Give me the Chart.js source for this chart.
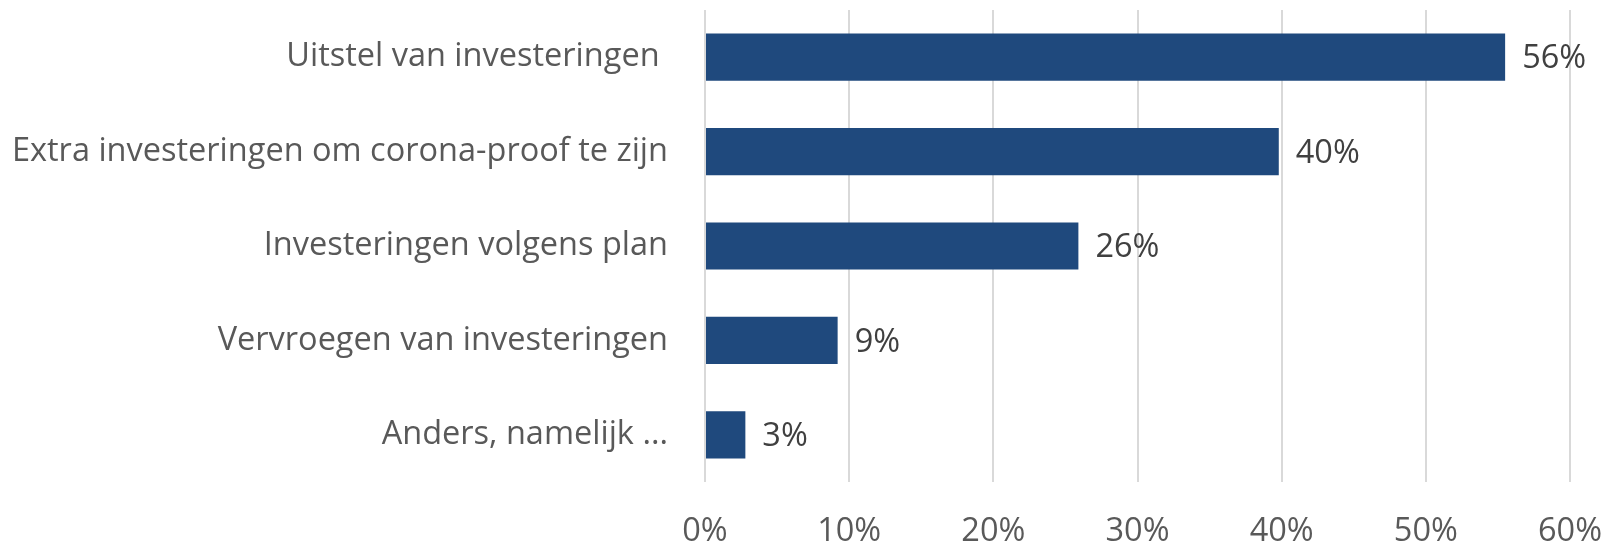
<!DOCTYPE html>
<html>
<head>
<meta charset="utf-8">
<script src="https://cdn.jsdelivr.net/npm/chart.js@4"></script>
<style>
  html, body { margin: 0; padding: 0; background: #fff; }
  #wrap { width: 1616px; height: 545px; }
</style>
</head>
<body>
<div id="wrap"><canvas id="chart" width="1616" height="545"></canvas></div>
<script>
const categories = [
    'Uitstel van investeringen ',
    'Extra investeringen om corona-proof te zijn',
    'Investeringen volgens plan',
    'Vervroegen van investeringen',
    'Anders, namelijk ...'
];
const shares = [55.5, 39.8, 25.9, 9.2, 2.8];
const xTicks = [0, 10, 20, 30, 40, 50, 60];

const FONT = "'Open Sans', 'Noto Sans', sans-serif";
const FONT_SIZE = 32.5;

// draws the "56%" text right after each bar
const barLabels = {
    id: 'barLabels',
    afterDatasetsDraw(chart) {
        const ctx = chart.ctx;
        const meta = chart.getDatasetMeta(0);
        ctx.save();
        ctx.font = FONT_SIZE + 'px ' + FONT;
        ctx.fillStyle = '#404040';
        ctx.textAlign = 'left';
        ctx.textBaseline = 'middle';
        meta.data.forEach(function (bar, i) {
            ctx.fillText(Math.round(shares[i]) + '%', bar.x + 17, bar.y + 2);
        });
        ctx.restore();
    }
};

const ctx = document.getElementById('chart').getContext('2d');
new Chart(ctx, {
    type: 'bar',
    data: {
        labels: categories,
        datasets: [{
            data: shares,
            backgroundColor: '#1f497d',
            borderWidth: 0,
            categoryPercentage: 1,
            barPercentage: 0.5
        }]
    },
    options: {
        indexAxis: 'y',
        responsive: false,
        animation: false,
        layout: { padding: { top: 10, right: 46, left: 0, bottom: 0 } },
        plugins: {
            legend: { display: false },
            tooltip: { enabled: false }
        },
        scales: {
            x: {
                min: 0,
                max: 60,
                afterBuildTicks(scale) {
                    scale.ticks = xTicks.map(v => ({ value: v }));
                },
                afterFit(scale) {
                    scale.height = 63;
                    scale.paddingLeft = 0;
                    scale.paddingRight = 0;
                },
                grid: { color: '#d9d9d9', lineWidth: 2, drawTicks: false },
                border: { display: false },
                ticks: {
                    padding: 30,
                    color: '#595959',
                    font: { family: FONT, size: FONT_SIZE },
                    callback: v => v + '%'
                }
            },
            y: {
                afterFit(scale) {
                    scale.width = 705;
                    scale.paddingTop = 0;
                    scale.paddingBottom = 0;
                },
                grid: { display: false, drawTicks: false },
                border: { display: false },
                ticks: {
                    padding: 37,
                    color: '#595959',
                    font: { family: FONT, size: FONT_SIZE }
                }
            }
        }
    },
    plugins: [barLabels]
});
</script>
</body>
</html>
